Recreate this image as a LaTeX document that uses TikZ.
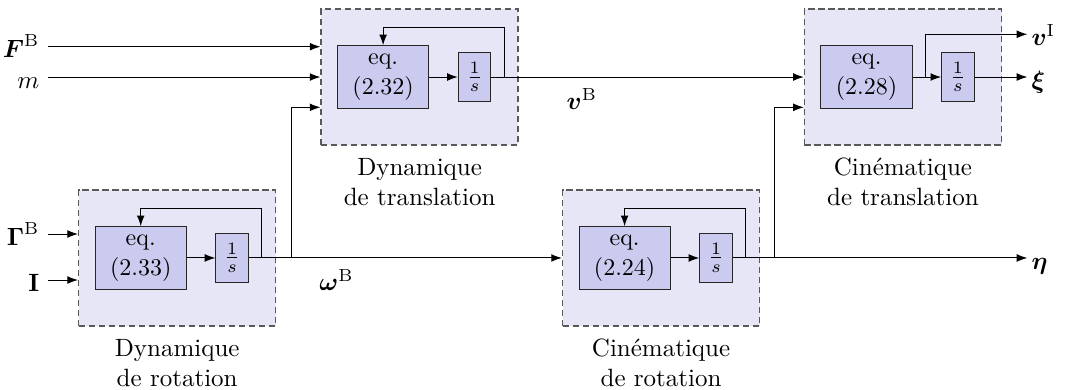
\documentclass[tikz,border=0pt]{standalone}
\usepackage{amsmath}
\usepackage{amssymb}
\usepackage{xcolor}
\usepackage{tikz}
\usetikzlibrary{arrows.meta,positioning}

\definecolor{blockbg}{RGB}{230,230,246}
\definecolor{eqbg}{RGB}{203,203,240}

\begin{document}
\begin{tikzpicture}[
  block/.style={draw=black!65,dash pattern=on 2.5pt off 1.5pt,line width=0.5pt,fill=blockbg,minimum width=2.77cm,minimum height=1.912cm},
  eqbox/.style={draw=black!85,fill=eqbg,minimum width=1.282cm,minimum height=0.88cm,align=center,font=\fontsize{9.6}{12}\selectfont,inner sep=1pt},
  integ/.style={draw=black!85,fill=eqbg,minimum width=0.456cm,minimum height=0.68cm,inner sep=1pt},
  caption/.style={below=1.4pt,align=center},
  inlab/.style={anchor=east,text height=9pt,text depth=0pt},
  outlab/.style={anchor=west,text height=9pt,text depth=0pt,inner sep=1.5pt},
  sig/.style={-{Latex[length=1.5mm,width=1.1mm]}}
]
\useasboundingbox (0,0) rectangle (15.029,5.483);

% the four blocks
\node[block] (dt) at (5.899,4.400) {};
\node[block] (ct) at (12.695,4.400) {};
\node[block] (dr) at (2.491,1.856) {};
\node[block] (cr) at (9.294,1.856) {};

\node[caption] at (dt.south) {Dynamique\\de translation};
\node[caption] at (ct.south) {Cinématique\\de translation};
\node[caption] at (dr.south) {Dynamique\\de rotation};
\node[caption] at (cr.south) {Cinématique\\de rotation};

% equations and integrators
\node[eqbox,right=0.233cm of dt.west] (dteq) {eq.\\(2.32)};
\node[integ,right=0.402cm of dteq] (dtint) {$\frac{1}{s}$};
\node[eqbox,right=0.233cm of ct.west] (cteq) {eq.\\(2.28)};
\node[integ,right=0.402cm of cteq] (ctint) {$\frac{1}{s}$};
\node[eqbox,right=0.233cm of dr.west] (dreq) {eq.\\(2.33)};
\node[integ,right=0.402cm of dreq] (drint) {$\frac{1}{s}$};
\node[eqbox,right=0.233cm of cr.west] (creq) {eq.\\(2.24)};
\node[integ,right=0.402cm of creq] (crint) {$\frac{1}{s}$};

\draw[sig] (dteq) -- (dtint);
\draw[sig] (cteq) -- (ctint);
\draw[sig] (dreq) -- (drint);
\draw[sig] (creq) -- (crint);

% feedback loops
\coordinate[right=0.184cm of dtint] (dtfb);
\coordinate[above=0.245cm of dteq] (dttop);
\draw[sig] (dtfb) |- (dttop) -- (dteq);
\coordinate[right=0.184cm of drint] (drfb);
\coordinate[above=0.245cm of dreq] (drtop);
\draw[sig] (drfb) |- (drtop) -- (dreq);
\coordinate[right=0.184cm of crint] (crfb);
\coordinate[above=0.245cm of creq] (crtop);
\draw[sig] (crfb) |- (crtop) -- (creq);

% inputs
\node[inlab] (lF) at (0.678,4.826) {$\boldsymbol{F}^{\mathrm{B}}$};
\node[inlab] (lm) at (0.678,4.400) {$m$};
\node[inlab] (lG) at (0.678,2.193) {$\boldsymbol{\Gamma}^{\mathrm{B}}$};
\node[inlab] (lI) at (0.678,1.546) {$\mathbf{I}$};
\draw[sig] (lF) -- (lF -| dt.west);
\draw[sig] (lm) -- (lm -| dt.west);
\draw[sig] (lG) -- (lG -| dr.west);
\draw[sig] (lI) -- (lI -| dr.west);

% links between blocks
\draw[sig] (dtint) -- node[pos=0.29,below=1pt] {$\boldsymbol{v}^{\mathrm{B}}$} (ct);
\draw[sig] (drint) -- node[pos=0.28,below=1pt] {$\boldsymbol{\omega}^{\mathrm{B}}$} (cr);
\coordinate[below=0.426cm of dt.west] (dtin3);
\coordinate[left=0.41cm of dtin3] (wbr);
\draw[sig] (wbr |- drint) |- (dtin3);
\coordinate[below=0.426cm of ct.west] (ctin3);
\coordinate[left=0.41cm of ctin3] (hbr);
\draw[sig] (hbr |- crint) |- (ctin3);

% outputs
\node[outlab] (lvI) at (14.444,5.001) {$\boldsymbol{v}^{\mathrm{I}}$};
\node[outlab] (lxi) at (14.444,4.400) {$\boldsymbol{\xi}$};
\node[outlab] (leta) at (14.444,1.856) {$\boldsymbol{\eta}$};
\coordinate[right=0.183cm of cteq] (ctbr);
\draw[sig] (ctbr) |- (lvI);
\draw[sig] (ctint) -- (lxi);
\draw[sig] (crint) -- (leta);
\end{tikzpicture}
\end{document}
